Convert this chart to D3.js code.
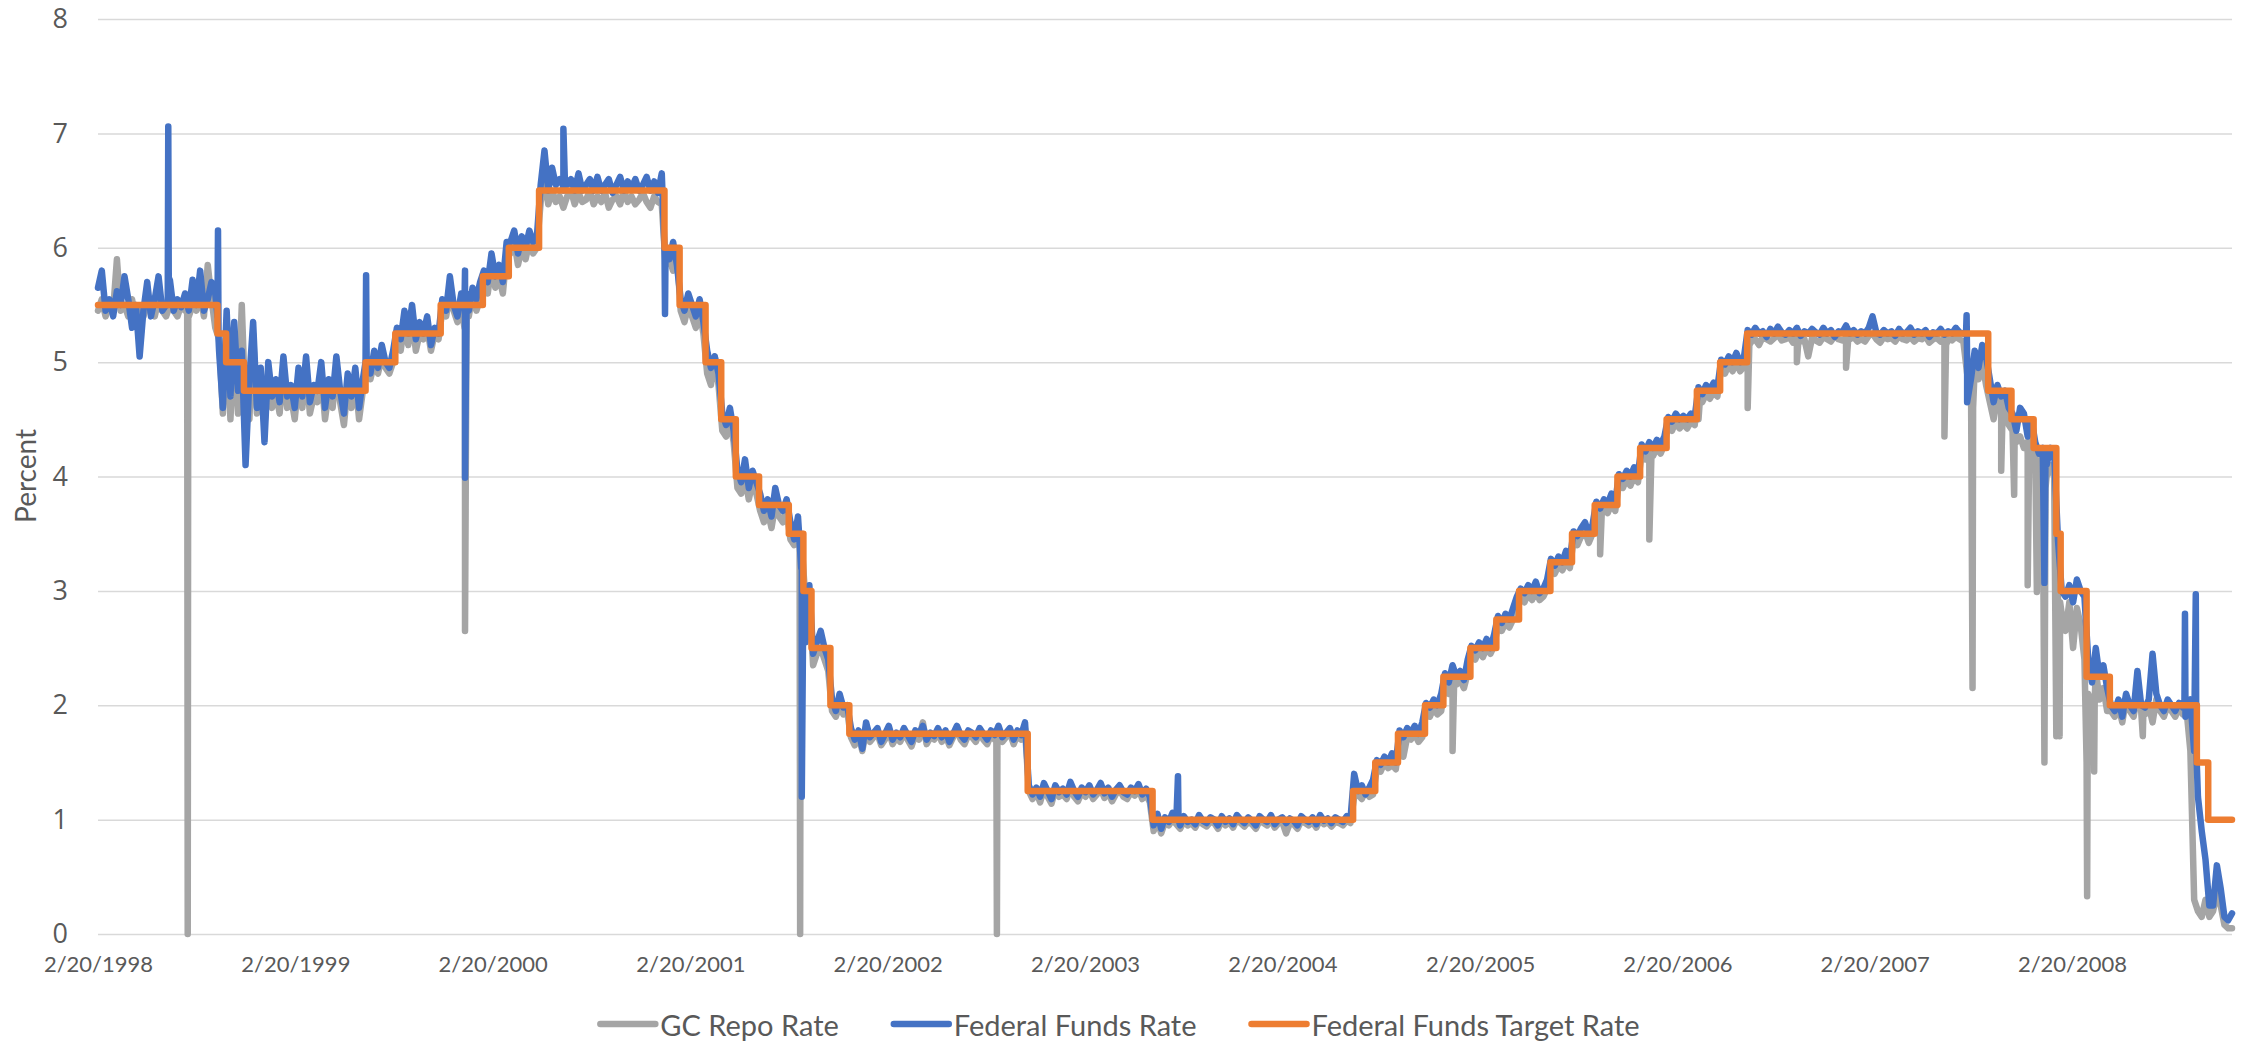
<!DOCTYPE html>
<html>
<head>
<meta charset="utf-8">
<script src="https://cdn.jsdelivr.net/npm/d3@7"></script>
<style>
  html, body { margin: 0; padding: 0; background: #ffffff; }
  svg { display: block; }
</style>
</head>
<body>
<svg id="chart" width="2251" height="1041"></svg>
<script>
// ---------------------------------------------------------------------------
// Data: weekly observations (every 7 days from 1998-02-20), plus daily
// observations around quarter-end / stress days, and the FOMC target path.
// ---------------------------------------------------------------------------
const weeklyStart = "1998-02-20";

// Effective federal funds rate, weekly (percent)
const fedFundsWeekly = [
  // 1998
  5.65,5.80,5.45,5.55,5.40,5.62,5.50,5.75,5.55,5.30,
  5.50,5.05,5.45,5.70,5.40,5.55,5.75,5.45,5.50,5.72,
  5.45,5.55,5.48,5.60,5.45,5.72,5.50,5.80,5.45,5.55,
  5.70,5.60,
  5.10,4.60,5.45,4.70,5.35,4.75,5.10,
  4.10,4.85,5.35,4.60,4.95,4.30,5.00,4.70,4.85,4.65,
  // 1999
  5.05,4.70,4.80,4.60,4.95,4.70,5.05,4.65,4.80,4.75,
  5.00,4.60,4.85,4.70,5.05,4.75,4.55,4.90,4.70,4.95,
  4.60,4.85,
  5.05,4.90,5.10,4.95,5.15,5.00,4.95,5.10,
  5.30,5.20,5.45,5.25,5.50,5.20,5.35,5.25,5.40,5.15,5.30,5.25,
  5.55,5.45,5.75,5.50,5.40,5.60,5.80,5.45,5.65,5.55,5.70,
  // 2000
  5.80,5.70,5.95,5.75,5.85,5.70,6.05,
  6.05,6.15,5.95,6.10,6.00,6.15,6.05,6.10,
  6.55,6.85,6.50,6.70,6.55,6.60,6.50,6.55,6.60,6.50,
  6.65,6.50,6.55,6.60,6.50,6.62,6.50,6.55,6.60,6.48,
  6.55,6.62,6.50,6.58,6.52,6.60,6.50,6.55,6.62,6.50,
  6.58,6.48,6.65,
  // 2001
  6.00,5.90,6.05,5.85,
  5.55,5.45,5.60,5.50,5.40,5.55,5.35,
  5.10,4.95,5.05,4.90,
  4.55,4.45,4.60,4.40,
  4.05,3.95,4.15,3.90,4.05,3.95,
  3.85,3.70,3.80,3.65,3.90,3.75,3.70,3.80,
  3.60,3.45,3.65,3.50,
  2.55,3.05,
  2.45,2.55,2.65,2.50,2.40,
  2.05,1.95,2.10,1.98,2.00,
  // 2002
  1.80,1.70,1.78,1.62,1.85,1.72,1.76,1.80,1.68,1.75,
  1.82,1.70,1.76,1.72,1.80,1.74,1.68,1.78,1.75,1.82,
  1.70,1.76,1.73,1.80,1.72,1.78,1.68,1.75,1.82,1.74,
  1.70,1.78,1.76,1.72,1.80,1.75,1.70,1.78,1.74,1.82,
  1.72,1.76,1.80,1.70,1.78,1.74,1.85,
  1.30,1.22,1.28,1.20,1.32,1.25,1.18,1.30,1.24,1.27,
  // 2003
  1.22,1.33,1.25,1.20,1.28,1.24,1.30,1.22,1.26,1.32,
  1.23,1.28,1.20,1.26,1.30,1.24,1.22,1.28,1.25,1.31,
  1.22,1.27,1.20,
  0.95,1.05,0.92,1.02,0.98,1.06,1.00,0.95,1.03,0.98,
  1.00,0.96,1.04,0.99,0.97,1.02,1.00,0.95,1.03,0.98,
  // 2004
  1.01,0.96,1.04,1.00,0.97,1.02,0.99,0.95,1.03,1.00,
  0.98,1.04,0.96,1.00,1.02,0.97,1.01,0.99,0.95,1.03,
  1.00,0.98,1.02,0.96,1.04,0.99,1.01,0.97,1.02,1.00,
  0.98,1.03,1.00,
  1.40,1.25,1.30,1.22,1.28,1.35,
  1.52,1.48,1.55,1.50,1.58,1.50,
  1.78,1.72,1.80,1.76,1.82,1.75,1.85,
  2.02,1.98,2.05,2.00,2.10,
  2.28,2.20,2.35,2.25,2.30,2.22,2.40,
  // 2005
  2.52,2.48,2.55,2.50,2.58,2.50,2.62,
  2.78,2.72,2.80,2.75,2.85,2.95,
  3.02,2.98,3.05,3.00,3.08,2.98,3.02,3.10,
  3.28,3.22,3.30,3.25,3.35,3.28,
  3.52,3.48,3.55,3.60,3.50,3.58,
  3.78,3.72,3.80,3.76,3.85,3.78,
  4.02,3.98,4.05,4.00,4.08,4.02,
  4.28,4.22,4.30,4.25,4.32,4.28,4.35,
  // 2006
  4.52,4.48,4.55,4.50,4.53,4.50,4.55,4.52,
  4.78,4.72,4.80,4.76,4.82,4.78,
  5.02,4.98,5.05,5.00,5.08,5.00,5.04,
  5.28,5.24,5.30,5.25,5.27,5.22,5.29,5.25,5.31,5.26,
  5.24,5.28,5.25,5.30,5.23,5.27,5.25,5.29,5.26,5.24,
  5.30,5.25,5.28,5.22,5.27,5.26,5.32,5.25,5.28,5.24,
  // 2007
  5.27,5.25,5.30,5.40,5.26,5.24,5.28,5.25,5.27,5.23,
  5.29,5.25,5.26,5.30,5.24,5.27,5.25,5.28,5.22,5.26,
  5.25,5.29,5.24,5.27,5.25,5.30,5.26,5.25,
  5.00,4.85,5.10,4.95,5.15,5.05,
  4.85,4.65,4.80,4.70,4.75,4.60,
  4.55,4.40,4.60,4.55,4.35,4.50,
  4.30,4.20,4.25,4.10,4.25,4.20,
  // 2008
  3.45,
  3.00,2.95,3.05,2.90,3.10,3.00,2.95,
  2.40,2.20,2.50,2.25,2.35,2.15,
  2.00,1.95,2.05,1.90,2.10,2.00,1.95,2.30,2.00,1.98,
  2.05,2.45,2.10,2.00,1.95,2.05,2.00,1.95,2.02,1.98,
  2.00,2.05,1.60,
  1.20,0.90,0.65,
  0.25,0.25,0.60,0.40,0.15,0.12,0.18
];

// Daily federal funds observations around spikes
const fedFundsDaily = [
  ["1998-06-29",5.50],["1998-06-30",7.06],["1998-07-01",5.55],
  ["1998-09-29",5.40],["1998-09-30",6.15],["1998-10-01",5.20],
  ["1999-06-30",5.00],["1999-07-01",5.76],["1999-07-02",5.05],
  ["1999-12-30",5.50],["1999-12-31",3.99],["2000-01-03",5.60],
  ["2000-06-29",6.55],["2000-06-30",7.04],["2000-07-03",6.55],
  ["2001-01-03",6.00],["2001-01-04",5.42],["2001-01-05",6.00],
  ["2001-09-13",3.20],["2001-09-14",1.20],["2001-09-17",3.00],
  ["2003-08-08",1.00],["2003-08-11",1.38],["2003-08-12",1.00],
  ["2007-08-08",5.26],["2007-08-09",5.41],["2007-08-10",4.65],
  ["2007-12-28",4.20],["2007-12-31",3.07],["2008-01-02",4.20],
  ["2008-09-15",2.00],["2008-09-16",2.80],["2008-09-17",1.90],
  ["2008-10-03",1.70],["2008-10-06",2.97],["2008-10-07",1.60]
];

// General collateral repo rate, weekly (percent)
const gcRepoWeekly = [
  // 1998
  5.45,5.55,5.40,5.50,5.45,5.90,5.45,5.50,5.40,5.55,
  5.35,5.45,5.40,5.50,5.45,5.40,5.55,5.45,5.40,5.50,
  5.45,5.40,5.50,5.45,5.40,5.50,5.45,5.60,5.40,5.85,
  5.55,5.30,
  5.20,4.55,5.30,4.50,5.20,4.55,5.50,
  4.55,4.50,5.25,4.55,4.80,4.45,4.90,4.60,4.75,4.55,
  // 1999
  4.95,4.60,4.70,4.50,4.85,4.60,4.95,4.55,4.70,4.65,
  4.90,4.50,4.75,4.60,4.95,4.65,4.45,4.80,4.60,4.85,
  4.50,4.75,
  4.95,4.85,5.00,4.90,5.05,4.95,4.90,5.00,
  5.20,5.10,5.35,5.15,5.40,5.10,5.25,5.20,5.30,5.10,5.25,5.20,
  5.45,5.40,5.60,5.45,5.35,5.50,5.55,5.40,5.60,5.45,5.55,
  // 2000
  5.70,5.60,5.85,5.65,5.75,5.60,5.95,
  5.95,6.05,5.85,6.00,5.90,6.05,5.95,6.00,
  6.40,6.60,6.38,6.50,6.40,6.45,6.35,6.45,6.50,6.38,
  6.48,6.40,6.42,6.50,6.38,6.45,6.40,6.48,6.35,6.42,
  6.45,6.38,6.50,6.40,6.45,6.38,6.42,6.48,6.40,6.35,
  6.45,6.40,6.38,
  // 2001
  5.85,5.90,5.80,5.95,
  5.45,5.35,5.50,5.40,5.30,5.45,5.25,
  4.90,4.80,5.05,4.80,
  4.40,4.35,4.50,4.30,
  3.90,3.85,4.00,3.80,3.95,3.85,
  3.70,3.60,3.70,3.55,3.75,3.65,3.60,3.70,
  3.45,3.40,3.55,3.40,
  2.90,2.95,
  2.35,2.45,2.50,2.40,2.30,
  1.95,1.90,2.00,1.92,1.95,
  // 2002
  1.72,1.65,1.75,1.60,1.78,1.68,1.72,1.75,1.65,1.70,
  1.78,1.66,1.72,1.68,1.75,1.70,1.64,1.74,1.70,1.85,
  1.66,1.72,1.70,1.76,1.68,1.74,1.65,1.72,1.78,1.70,
  1.66,1.74,1.72,1.68,1.76,1.70,1.66,1.74,1.70,1.78,
  1.68,1.72,1.76,1.66,1.74,1.70,1.80,
  1.25,1.18,1.24,1.15,1.27,1.20,1.14,1.26,1.20,1.22,
  // 2003
  1.18,1.28,1.20,1.16,1.24,1.20,1.26,1.18,1.22,1.27,
  1.19,1.24,1.16,1.22,1.26,1.20,1.18,1.24,1.21,1.27,
  1.18,1.22,1.15,
  0.90,1.00,0.88,0.98,0.95,1.00,0.96,0.92,0.99,0.95,
  0.97,0.93,1.00,0.96,0.94,0.98,0.97,0.92,0.99,0.95,
  // 2004
  0.98,0.93,1.00,0.97,0.94,0.98,0.96,0.92,0.99,0.97,
  0.95,1.00,0.93,0.97,0.98,0.88,0.97,0.96,0.92,0.99,
  0.97,0.95,0.98,0.93,1.00,0.96,0.98,0.94,0.98,0.97,
  0.95,0.99,0.97,
  1.20,1.22,1.18,1.25,1.20,1.22,
  1.45,1.42,1.50,1.45,1.48,1.44,
  1.70,1.55,1.72,1.70,1.75,1.68,1.72,
  1.95,1.90,1.98,1.92,1.95,
  2.20,2.10,2.25,2.18,2.22,2.15,2.28,
  // 2005
  2.45,2.40,2.48,2.42,2.50,2.45,2.52,
  2.70,2.65,2.72,2.68,2.75,2.88,
  2.95,2.90,2.98,2.92,3.00,2.92,2.95,3.02,
  3.20,3.15,3.22,3.18,3.25,3.20,
  3.45,3.40,3.48,3.52,3.42,3.50,
  3.70,3.65,3.72,3.68,3.76,3.70,
  3.95,3.90,3.98,3.92,4.00,3.95,
  4.20,4.15,4.22,4.18,4.25,4.20,4.28,
  // 2006
  4.45,4.40,4.48,4.42,4.46,4.42,4.48,4.45,
  4.70,4.65,4.72,4.68,4.74,4.70,
  4.95,4.90,4.98,4.92,5.00,4.92,4.96,
  5.22,5.18,5.20,5.15,5.22,5.20,5.18,5.21,5.24,5.19,
  5.20,5.22,5.17,5.23,5.18,5.20,5.05,5.21,5.19,5.17,
  5.22,5.20,5.18,5.23,5.20,5.19,5.24,5.20,5.22,5.18,
  // 2007
  5.20,5.18,5.23,5.25,5.20,5.17,5.22,5.20,5.21,5.18,
  5.23,5.20,5.19,5.22,5.18,5.21,5.20,5.23,5.17,5.20,
  5.21,5.18,5.22,5.20,5.19,5.22,5.20,5.18,
  4.90,4.70,4.95,4.85,5.00,4.80,
  4.65,4.50,4.70,4.55,4.65,4.45,
  4.40,4.30,4.35,4.25,4.20,4.35,
  4.15,4.05,4.20,4.00,4.10,4.00,
  // 2008
  3.30,
  2.80,2.65,2.90,2.50,2.85,2.70,2.40,
  2.10,1.95,2.30,2.05,2.15,1.95,
  1.95,1.90,2.00,1.85,2.05,1.95,1.90,2.10,1.95,1.92,
  2.00,1.85,2.05,1.95,1.90,2.00,1.95,1.90,1.98,1.92,
  1.95,1.60,0.30,
  0.20,0.15,0.30,
  0.15,0.20,0.35,0.25,0.08,0.05,0.05
];

// Daily repo observations around spikes
const gcRepoDaily = [
  ["1998-08-04",5.45],["1998-08-05",0.00],["1998-08-06",5.45],
  ["1999-12-30",5.30],["1999-12-31",2.65],["2000-01-03",5.50],
  ["2001-09-10",3.45],["2001-09-11",0.00],["2001-09-12",3.00],
  ["2002-09-09",1.70],["2002-09-10",0.00],["2002-09-11",1.70],
  ["2004-12-30",2.20],["2004-12-31",1.60],["2005-01-03",2.22],
  ["2005-09-29",3.70],["2005-09-30",3.32],["2005-10-03",3.68],
  ["2005-12-29",4.20],["2005-12-30",3.45],["2006-01-03",4.20],
  ["2006-03-30",4.70],["2006-03-31",4.50],["2006-04-03",4.70],
  ["2006-06-29",5.10],["2006-06-30",4.60],["2006-07-03",5.15],
  ["2006-09-28",5.20],["2006-09-29",5.00],["2006-10-02",5.20],
  ["2006-12-28",5.20],["2006-12-29",4.95],["2007-01-02",5.20],
  ["2007-06-28",5.20],["2007-06-29",4.35],["2007-07-02",5.15],
  ["2007-08-17",5.00],["2007-08-20",2.15],["2007-08-21",4.60],
  ["2007-10-11",4.70],["2007-10-12",4.05],["2007-10-15",4.65],
  ["2007-11-02",4.40],["2007-11-05",3.84],["2007-11-06",4.45],
  ["2007-11-29",4.30],["2007-11-30",3.05],["2007-12-03",4.30],
  ["2007-12-14",4.20],["2007-12-17",2.99],["2007-12-18",4.10],
  ["2007-12-28",4.00],["2007-12-31",1.50],["2008-01-02",3.90],
  ["2008-01-18",4.00],["2008-01-22",1.73],["2008-01-23",3.20],
  ["2008-01-25",3.00],["2008-01-28",1.73],["2008-01-29",2.90],
  ["2008-03-18",1.50],["2008-03-19",0.33],["2008-03-20",1.70],
  ["2008-03-31",2.00],["2008-04-01",1.42],["2008-04-02",2.05],
  ["2008-06-27",1.95],["2008-06-30",1.73],["2008-07-01",1.95]
];

// Federal funds target rate: effective dates and levels
const targetDates = [
  "1998-02-20","1998-09-29","1998-10-15","1998-11-17","1999-06-30","1999-08-24",
  "1999-11-16","2000-02-02","2000-03-21","2000-05-16","2001-01-03","2001-01-31",
  "2001-03-20","2001-04-18","2001-05-15","2001-06-27","2001-08-21","2001-09-17",
  "2001-10-02","2001-11-06","2001-12-11","2002-11-06","2003-06-25","2004-06-30",
  "2004-08-10","2004-09-21","2004-11-10","2004-12-14","2005-02-02","2005-03-22",
  "2005-05-03","2005-06-30","2005-08-09","2005-09-20","2005-11-01","2005-12-13",
  "2006-01-31","2006-03-28","2006-05-10","2006-06-29","2007-09-18","2007-10-31",
  "2007-12-11","2008-01-22","2008-01-30","2008-03-18","2008-04-30","2008-10-08",
  "2008-10-29","2008-12-12"
];
const targetRates = [
  5.50,5.25,5.00,4.75,5.00,5.25,
  5.50,5.75,6.00,6.50,6.00,5.50,
  5.00,4.50,4.00,3.75,3.50,3.00,
  2.50,2.00,1.75,1.25,1.00,1.25,
  1.50,1.75,2.00,2.25,2.50,2.75,
  3.00,3.25,3.50,3.75,4.00,4.25,
  4.50,4.75,5.00,5.25,4.75,4.50,
  4.25,3.50,3.00,2.25,2.00,1.50,
  1.00,1.00
];

const xTickDates = ["1998-02-20","1999-02-20","2000-02-20","2001-02-20","2002-02-20",
  "2003-02-20","2004-02-20","2005-02-20","2006-02-20","2007-02-20","2008-02-20"];
const yTicks = [0,1,2,3,4,5,6,7,8];

const seriesNames = ["GC Repo Rate", "Federal Funds Rate", "Federal Funds Target Rate"];
const seriesColors = ["#a5a5a5", "#4472c4", "#ed7d31"];

// ---------------------------------------------------------------------------
const parse = d3.timeParse("%Y-%m-%d");
const start = parse(weeklyStart);

function buildSeries(weekly, daily) {
  const pts = weekly.map((v, i) => ({ date: d3.timeDay.offset(start, 7 * i), value: v }));
  daily.forEach(([d, v]) => pts.push({ date: parse(d), value: v }));
  pts.sort((a, b) => a.date - b.date);
  return pts;
}

const gcRepo = buildSeries(gcRepoWeekly, gcRepoDaily);
const fedFunds = buildSeries(fedFundsWeekly, fedFundsDaily);
const target = targetDates.map((d, i) => ({ date: parse(d), value: targetRates[i] }));

const plot = { left: 98, right: 2232, top: 19, bottom: 934 };
const svg = d3.select("#chart");

const x = d3.scaleTime()
  .domain([start, parse("2008-12-12")])
  .range([plot.left, plot.right]);
const y = d3.scaleLinear().domain([0, 8]).range([plot.bottom, plot.top]);

// Y axis with horizontal gridlines
const yAxis = svg.append("g")
  .attr("transform", `translate(${plot.left},0)`)
  .call(d3.axisLeft(y).tickValues(yTicks).tickFormat(d3.format("d"))
    .tickSize(-(plot.right - plot.left)).tickPadding(30));
yAxis.select(".domain").remove();
yAxis.selectAll(".tick line").attr("stroke", "#d9d9d9").attr("stroke-width", 1.5);
yAxis.selectAll(".tick text")
  .attr("fill", "#595959")
  .style("font-family", "'Open Sans', sans-serif")
  .style("font-size", "27px");

// X axis (labels only)
const xAxis = svg.append("g")
  .attr("transform", `translate(0,${plot.bottom})`)
  .call(d3.axisBottom(x).tickValues(xTickDates.map(parse))
    .tickFormat(d3.timeFormat("%-m/%-d/%Y")).tickSize(0));
xAxis.select(".domain").remove();
xAxis.selectAll(".tick text")
  .attr("y", 38).attr("dy", null)
  .attr("fill", "#595959")
  .style("font-family", "Lato, sans-serif")
  .style("font-size", "22px");

// Axis title
svg.append("text")
  .attr("transform", "translate(25,476) rotate(-90)")
  .attr("text-anchor", "middle")
  .attr("dominant-baseline", "central")
  .attr("fill", "#595959")
  .style("font-family", "Lato, sans-serif")
  .style("font-size", "28px")
  .text("Percent");

// Series lines
const line = d3.line().x(d => x(d.date)).y(d => y(d.value));
const stepLine = d3.line().x(d => x(d.date)).y(d => y(d.value)).curve(d3.curveStepAfter);

[[gcRepo, line, seriesColors[0]], [fedFunds, line, seriesColors[1]], [target, stepLine, seriesColors[2]]]
  .forEach(([data, gen, color]) => {
    svg.append("path")
      .datum(data)
      .attr("d", gen)
      .attr("fill", "none")
      .attr("stroke", color)
      .attr("stroke-width", 6.5)
      .attr("stroke-linejoin", "round")
      .attr("stroke-linecap", "round");
  });

// Legend, centred under the chart
const legend = svg.append("g");
const swatch = 55, swGap = 5, itemGap = 55, legendY = 1024, legendCenter = 1120;
let cursor = 0;
const items = seriesNames.map((name, i) => {
  const g = legend.append("g");
  g.append("line").attr("x1", 0).attr("x2", swatch).attr("y1", 0).attr("y2", 0)
    .attr("stroke", seriesColors[i]).attr("stroke-width", 6.5).attr("stroke-linecap", "round");
  const t = g.append("text").attr("x", swatch + swGap).attr("y", 0)
    .attr("dominant-baseline", "central").attr("fill", "#595959")
    .style("font-family", "Lato, sans-serif").style("font-size", "29px").text(name);
  const w = swatch + swGap + t.node().getComputedTextLength();
  const pos = cursor;
  cursor += w + itemGap;
  return { g, pos };
});
const totalW = cursor - itemGap;
items.forEach(({ g, pos }) => g.attr("transform", `translate(${legendCenter - totalW / 2 + pos},${legendY})`));
</script>
</body>
</html>
